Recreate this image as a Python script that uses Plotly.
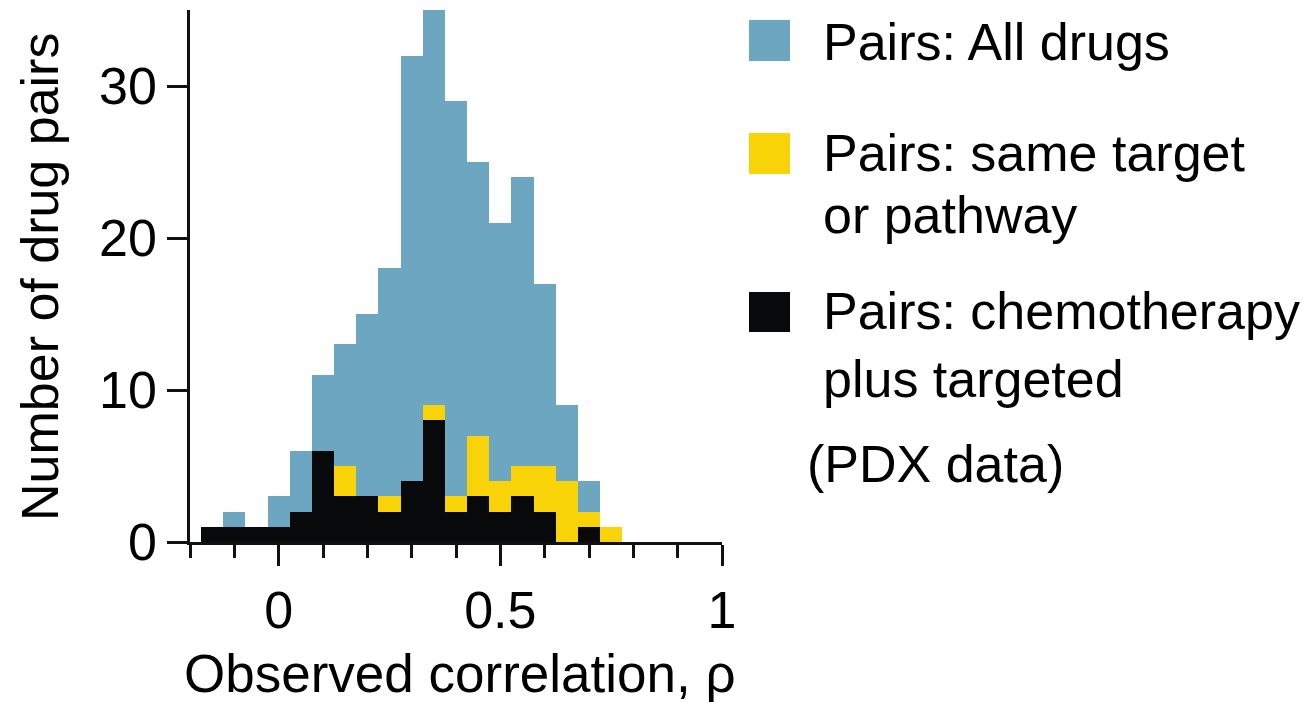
import plotly.graph_objects as go

# Histogram bins (bin centres, width 0.05) of observed correlation rho
bin_centers = [-0.15, -0.10, -0.05, 0.00, 0.05, 0.10, 0.15, 0.20, 0.25, 0.30,
               0.35, 0.40, 0.45, 0.50, 0.55, 0.60, 0.65, 0.70, 0.75]
bin_width = 0.05

# Number of drug pairs per bin
all_drugs = [1, 2, 1, 3, 6, 11, 13, 15, 18, 32, 36, 29, 25, 21, 24, 17, 9, 4, 1]
same_target = [0, 0, 0, 0, 0, 0, 5, 0, 3, 0, 9, 3, 7, 4, 5, 5, 4, 2, 1]
chemo_targeted = [1, 1, 1, 1, 2, 6, 3, 3, 2, 4, 8, 2, 3, 2, 3, 2, 0, 1, 0]

series_names = ["Pairs: All drugs", "Pairs: same target or pathway",
                "Pairs: chemotherapy plus targeted"]
series_colors = ["#6DA6C1", "#F7D308", "#08090B"]

x_tick_vals = [0, 0.5, 1]
x_tick_text = ["0", "0.5", "1"]
y_tick_vals = [0, 10, 20, 30]
y_tick_text = ["0", "10", "20", "30"]

FONT = "Liberation Sans, Arial, sans-serif"
FS = 52
INK = "#111111"

# Page geometry (pixels) of the plotting area
W_PAGE, H_PAGE = 1313, 702
L, R, T, B = 190, 722, 10, 542


def px(x):
    return (x - L) / (R - L)


def py(y):
    return (B - y) / (B - T)


fig = go.Figure()
for name, vals, col in zip(series_names, [all_drugs, same_target, chemo_targeted], series_colors):
    fig.add_trace(go.Bar(
        x=bin_centers, y=vals, width=bin_width, name=name,
        marker=dict(color=col, line=dict(width=0)),
        showlegend=False,
    ))

axis_common = dict(
    showgrid=False, zeroline=False, showline=True, linecolor=INK, linewidth=2.5,
    ticks="outside", tickcolor=INK, tickwidth=2.5,
    tickfont=dict(family=FONT, size=FS, color="#000"),
)

fig.update_xaxes(
    range=[-0.2, 1.0], tickmode="array", tickvals=x_tick_vals, ticktext=x_tick_text,
    ticklen=21, ticklabelstandoff=0,
    minor=dict(dtick=0.1, tick0=0, ticklen=13, tickwidth=2.5, tickcolor=INK, ticks="outside"),
    **axis_common,
)
fig.update_yaxes(
    range=[0, 35], tickmode="array", tickvals=y_tick_vals, ticktext=y_tick_text,
    ticklen=20, ticklabelstandoff=0,
    **axis_common,
)

# Legend swatches and labels
swatches = [(20, 61), (133, 174), (292, 332)]
shapes = []
for (y0, y1), col in zip(swatches, series_colors):
    shapes.append(dict(type="rect", xref="paper", yref="paper",
                       x0=px(749), x1=px(790), y0=py(y1), y1=py(y0),
                       fillcolor=col, line=dict(width=0)))

legend_lines = [
    ("Pairs: All drugs", 821, 41.5),
    ("Pairs: same target", 821, 153),
    ("or pathway", 821, 215.5),
    ("Pairs: chemotherapy", 821, 310.5),
    ("plus targeted", 821, 379),
    ("(PDX data)", 805, 464),
]
annotations = []
for text, x, y in legend_lines:
    annotations.append(dict(text=text, xref="paper", yref="paper", x=px(x), y=py(y),
                            xanchor="left", yanchor="middle", showarrow=False,
                            font=dict(family=FONT, size=FS, color="#000")))

# Axis titles
annotations.append(dict(text="Observed correlation, ρ", xref="paper", yref="paper",
                        x=px(182), y=py(673.5), xanchor="left", yanchor="middle",
                        showarrow=False, font=dict(family=FONT, size=53, color="#000")))
annotations.append(dict(text="Number of drug pairs", xref="paper", yref="paper",
                        x=px(40), y=py(277), xanchor="center", yanchor="middle",
                        textangle=-90, showarrow=False,
                        font=dict(family=FONT, size=FS, color="#000")))

fig.update_layout(
    width=W_PAGE, height=H_PAGE,
    margin=dict(l=L, r=W_PAGE - R, t=T, b=H_PAGE - B, pad=0),
    barmode="overlay", bargap=0,
    plot_bgcolor="white", paper_bgcolor="white",
    shapes=shapes, annotations=annotations,
    showlegend=False,
)

fig.write_html("out.html", config={"displayModeBar": False})
